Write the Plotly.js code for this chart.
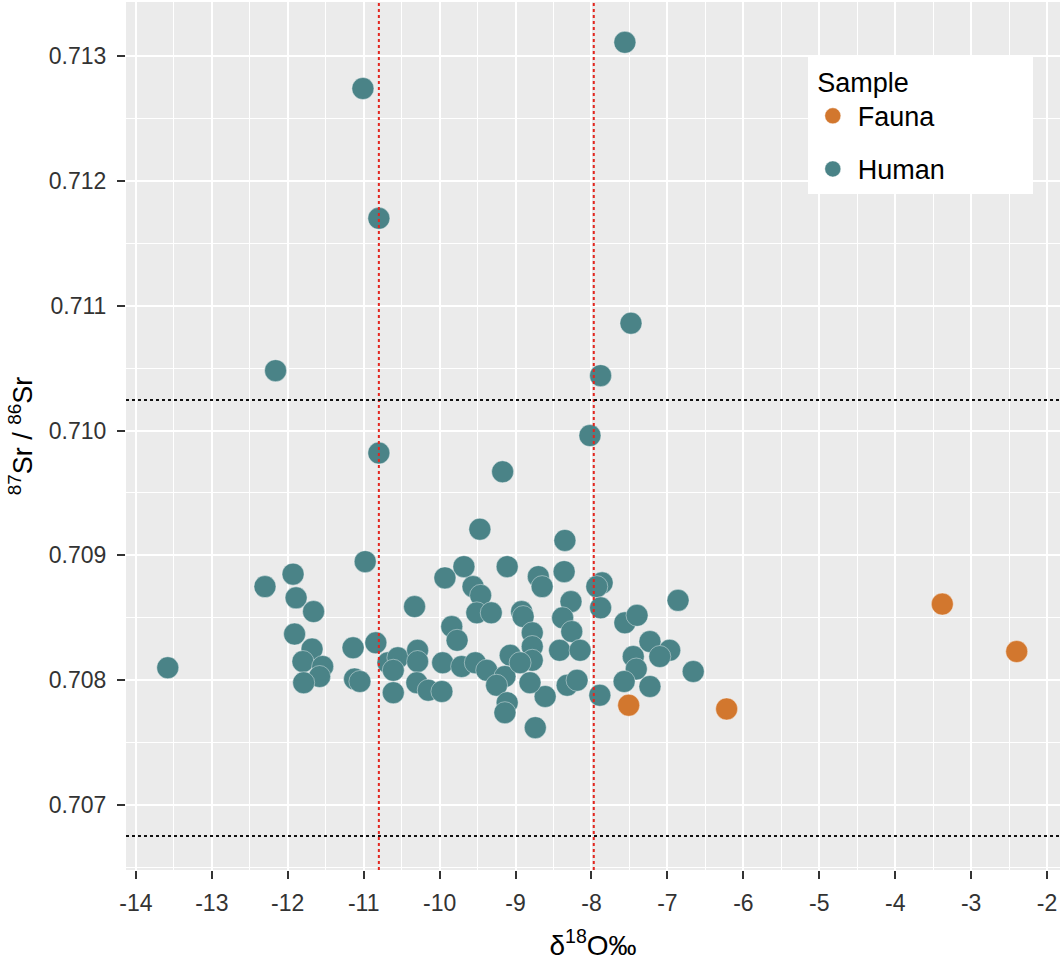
<!DOCTYPE html>
<html>
<head>
<meta charset="utf-8">
<script src="https://cdn.plot.ly/plotly-3.0.1.min.js"></script>
<style>body{margin:0;background:#fff}</style>
</head>
<body>
<div id="myDiv" style="width:1063px;height:962px"></div>
<script>
// delta 18O and 87Sr/86Sr
var humanX = [-7.56, -11.01, -10.80, -7.48, -12.16, -7.88, -8.02, -10.80, -9.17, -9.47, -8.35, -10.98,
  -11.93, -12.30, -11.89, -11.66, -11.91, -11.68, -11.80, -11.54, -11.58, -11.79, -13.58, -11.14, -11.12, -11.05, -10.84,
  -10.33, -9.93, -9.68, -9.56, -9.46, -9.51, -9.32, -9.11, -8.70, -8.65, -8.36, -7.86, -7.93, -7.88, -6.86,
  -8.92, -8.90, -8.78, -8.78, -8.78, -8.27, -8.38, -8.26, -8.42, -8.15, -7.56, -7.40, -7.23, -6.97, -7.10, -7.45,
  -7.41, -7.57, -7.23, -6.66, -7.89, -8.32, -8.19, -8.61, -8.74, -9.84, -9.77, -10.68, -10.55, -10.29, -10.29,
  -9.96, -10.61, -10.61, -10.30, -10.15, -9.97, -9.71, -9.53, -9.38, -9.07, -9.14, -9.25, -8.94, -8.81, -9.11, -9.14];
var humanY = [0.71311, 0.71274, 0.71170, 0.71086, 0.71048, 0.71044, 0.70996, 0.70982, 0.70967, 0.70921, 0.70912, 0.70895,
  0.70885, 0.70875, 0.70866, 0.70855, 0.70837, 0.70825, 0.70815, 0.70811, 0.70803, 0.70798, 0.70810, 0.70826, 0.70801, 0.70799, 0.70830,
  0.70859, 0.70882, 0.70891, 0.70875, 0.70868, 0.70854, 0.70854, 0.70891, 0.70883, 0.70875, 0.70887, 0.70878, 0.70875, 0.70858, 0.70864,
  0.70855, 0.70851, 0.70838, 0.70827, 0.70816, 0.70863, 0.70850, 0.70839, 0.70824, 0.70824, 0.70846, 0.70852, 0.70831, 0.70824, 0.70819, 0.70819,
  0.70809, 0.70799, 0.70795, 0.70807, 0.70788, 0.70796, 0.70800, 0.70787, 0.70762, 0.70843, 0.70832, 0.70814, 0.70818, 0.70824, 0.70815,
  0.70814, 0.70808, 0.70790, 0.70798, 0.70792, 0.70791, 0.70811, 0.70814, 0.70808, 0.70820, 0.70803, 0.70796, 0.70814, 0.70798, 0.70782, 0.70774];
var faunaX = [-7.51, -6.22, -3.38, -2.40];
var faunaY = [0.70780, 0.70777, 0.70861, 0.70823];

// reference lines
var oxygenLines = [-10.80, -7.97];
var strontiumLines = [0.710244, 0.706752];

var xTicks = [-14, -13, -12, -11, -10, -9, -8, -7, -6, -5, -4, -3, -2];
var xLabels = ['-14', '-13', '-12', '-11', '-10', '-9', '-8', '-7', '-6', '-5', '-4', '-3', '-2'];
var yTicks = [0.707, 0.708, 0.709, 0.710, 0.711, 0.712, 0.713];

var pad = '\u00a0\u00a0\u00a0\u00a0\u00a0\u00a0\u00a0\u00a0\u00a0\u00a0\u00a0';
var fauna = {
  x: faunaX, y: faunaY, mode: 'markers', type: 'scatter', name: 'Fauna' + pad, legendgroup: 'f',
  marker: {size: 22, color: '#D2772E', line: {color: 'rgba(255,255,255,0.5)', width: 0.8}}
};
var human = {
  x: humanX, y: humanY, mode: 'markers', type: 'scatter', name: 'Human' + pad, legendgroup: 'h',
  marker: {size: 22, color: '#4A8387', line: {color: 'rgba(255,255,255,0.5)', width: 0.8}}
};

var shapes = [];
oxygenLines.forEach(function (v) {
  shapes.push({type: 'line', xref: 'x', yref: 'paper', x0: v, x1: v, y0: 0, y1: 1,
    line: {color: '#E3261F', width: 2, dash: 'dot'}});
});
strontiumLines.forEach(function (v) {
  shapes.push({type: 'line', xref: 'paper', yref: 'y', x0: 0, x1: 1, y0: v, y1: v,
    line: {color: '#111111', width: 2, dash: 'dot'}});
});

var layout = {
  width: 1063, height: 962,
  margin: {l: 126, r: 3, t: 2, b: 92},
  paper_bgcolor: '#ffffff',
  plot_bgcolor: '#EBEBEB',
  font: {family: 'Liberation Sans, Arial, sans-serif', color: '#000'},
  showlegend: true,
  legend: {
    x: 0.73, y: 0.937, xanchor: 'left', yanchor: 'top',
    bgcolor: '#ffffff', borderwidth: 0,
    title: {text: ' Sample', font: {size: 27, color: '#000'}},
    font: {size: 27, color: '#000'},
    traceorder: 'grouped', tracegroupgap: 15,
    itemsizing: 'trace', itemwidth: 40
  },
  xaxis: {
    range: [-14.13, -1.83], tickvals: xTicks, ticktext: xLabels,
    showgrid: true, gridcolor: '#ffffff', gridwidth: 2.2,
    minor: {dtick: 0.5, tick0: 0, showgrid: true, gridcolor: '#ffffff', gridwidth: 1},
    zeroline: false, ticks: 'outside', ticklen: 8, tickwidth: 1.5, tickcolor: '#333',
    tickfont: {size: 23, color: '#333'}, ticklabelstandoff: 4,
    title: {text: 'δ<sup>18</sup>O‰', font: {size: 28, color: '#000'}, standoff: 20}
  },
  yaxis: {
    range: [0.70648, 0.713433], tickvals: yTicks, tickformat: '.3f',
    showgrid: true, gridcolor: '#ffffff', gridwidth: 2.2,
    minor: {dtick: 0.0005, tick0: 0.707, showgrid: true, gridcolor: '#ffffff', gridwidth: 1},
    zeroline: false, ticks: 'outside', ticklen: 8, tickwidth: 1.5, tickcolor: '#333',
    tickfont: {size: 23, color: '#333'}, ticklabelstandoff: 6,
    title: {text: '<sup>87</sup>Sr / <sup>86</sup>Sr', font: {size: 27, color: '#000'}, standoff: 8}
  },
  shapes: shapes
};

Plotly.newPlot('myDiv', [fauna, human], layout, {displayModeBar: false});
</script>
</body>
</html>
